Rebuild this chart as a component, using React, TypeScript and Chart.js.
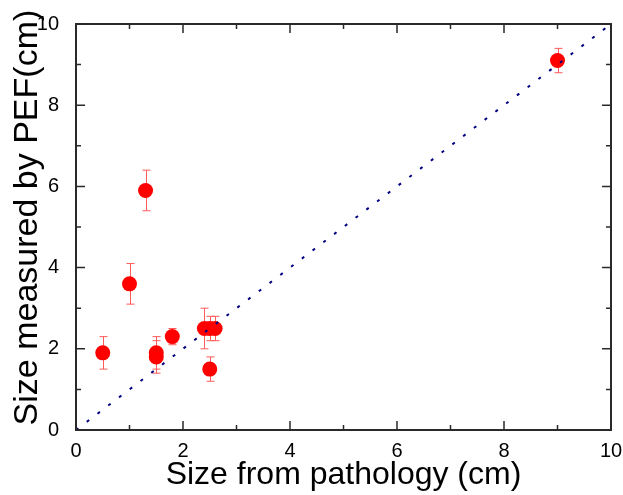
import React, { useEffect, useRef } from "react";
import { Chart, registerables } from "chart.js";
Chart.register(...registerables);

const sizePathology = [0.5, 1.0, 1.3, 1.5, 1.5, 1.8, 2.4, 2.5, 2.6, 2.5, 9.0];
const sizePEF = [1.9, 3.6, 5.9, 1.9, 1.8, 2.3, 2.5, 2.5, 2.5, 1.5, 9.1];
const errPEF = [0.4, 0.5, 0.5, 0.4, 0.4, 0.2, 0.5, 0.3, 0.3, 0.3, 0.3];
const diagonalX = [0, 10];
const diagonalY = [0, 10];
const axisMin = 0;
const axisMax = 10;
const tickStep = 2;
const xTitle = "Size from pathology (cm)";
const yTitle = "  Size measured by PEF(cm)";

const FONT = "'Liberation Sans', Arial, sans-serif";

const errorBarPlugin = {
  id: "errorBars",
  beforeDatasetsDraw(chart: any) {
    const { ctx, scales } = chart;
    const xs = scales.x;
    const ys = scales.y;
    ctx.save();
    ctx.strokeStyle = "#ff5a5a";
    ctx.lineWidth = 1;
    for (let i = 0; i < sizePathology.length; i++) {
      const px = Math.round(xs.getPixelForValue(sizePathology[i])) + 0.5;
      const top = ys.getPixelForValue(sizePEF[i] + errPEF[i]);
      const bot = ys.getPixelForValue(sizePEF[i] - errPEF[i]);
      ctx.beginPath();
      ctx.moveTo(px, top);
      ctx.lineTo(px, bot);
      ctx.moveTo(px - 4, top);
      ctx.lineTo(px + 4, top);
      ctx.moveTo(px - 4, bot);
      ctx.lineTo(px + 4, bot);
      ctx.stroke();
    }
    ctx.restore();
  },
};

const framePlugin = {
  id: "frame",
  afterDraw(chart: any) {
    const { ctx, chartArea, scales } = chart;
    const { left, right, top, bottom } = chartArea;
    ctx.save();
    ctx.strokeStyle = "#2a2a2a";
    ctx.lineWidth = 2;
    ctx.strokeRect(left, top, right - left, bottom - top);
    ctx.lineWidth = 1.5;
    ctx.beginPath();
    for (let v = axisMin; v <= axisMax; v += 1) {
      const len = v % 2 === 0 ? 9 : 5;
      const px = scales.x.getPixelForValue(v);
      const py = scales.y.getPixelForValue(v);
      ctx.moveTo(px, bottom);
      ctx.lineTo(px, bottom - len);
      ctx.moveTo(px, top);
      ctx.lineTo(px, top + len);
      ctx.moveTo(left, py);
      ctx.lineTo(left + len, py);
      ctx.moveTo(right, py);
      ctx.lineTo(right - len, py);
    }
    ctx.stroke();
    ctx.restore();
  },
};

export default function App() {
  const ref = useRef<HTMLCanvasElement | null>(null);
  useEffect(() => {
    document.body.style.margin = "0";
    document.body.style.overflow = "hidden";
    document.documentElement.style.overflow = "hidden";
    if (!ref.current) return;
    const chart = new Chart(ref.current, {
      type: "scatter",
      data: {
        datasets: [
          {
            label: "y = x",
            data: diagonalX.map((x, i) => ({ x, y: diagonalY[i] })),
            showLine: true,
            pointRadius: 0,
            borderColor: "#000080",
            borderWidth: 2,
            borderDash: [3, 10.5],
            fill: false,
          } as any,
          {
            label: "PEF",
            data: sizePathology.map((x, i) => ({ x, y: sizePEF[i] })),
            pointRadius: 7.5,
            pointHoverRadius: 7.5,
            backgroundColor: "#ff0000",
            borderWidth: 0,
          },
        ],
      },
      options: {
        animation: false,
        responsive: false,
        layout: { autoPadding: false, padding: { top: 24, right: 12, left: 0, bottom: 0 } },
        plugins: { legend: { display: false }, tooltip: { enabled: false } },
        scales: {
          x: {
            type: "linear",
            min: axisMin,
            max: axisMax,
            grid: { display: false },
            border: { display: false },
            ticks: {
              stepSize: tickStep,
              color: "#000",
              padding: 1,
              font: { family: FONT, size: 20 },
              maxRotation: 0,
            },
            title: {
              display: true,
              text: xTitle,
              color: "#000",
              font: { family: FONT, size: 32, lineHeight: 1 },
              padding: { top: 0, bottom: 4 },
            },
            afterFit: (s: any) => {
              s.height = 65;
              s.paddingLeft = 0;
              s.paddingRight = 0;
            },
          },
          y: {
            type: "linear",
            min: axisMin,
            max: axisMax,
            grid: { display: false },
            border: { display: false },
            ticks: {
              stepSize: tickStep,
              color: "#000",
              padding: 9,
              font: { family: FONT, size: 20 },
            },
            title: {
              display: true,
              text: yTitle,
              color: "#000",
              font: { family: FONT, size: 34, lineHeight: 1 },
              padding: { top: 10.5, bottom: 0 },
            },
            afterFit: (s: any) => {
              s.width = 76;
              s.paddingTop = 0;
              s.paddingBottom = 0;
            },
          },
        },
      },
      plugins: [errorBarPlugin, framePlugin],
    });
    return () => chart.destroy();
  }, []);
  return (
    <div style={{ position: "absolute", left: 0, top: 0, width: 623, height: 495, background: "#fff", overflow: "hidden" }}>
      <canvas ref={ref} width={623} height={495} style={{ display: "block" }} />
    </div>
  );
}
